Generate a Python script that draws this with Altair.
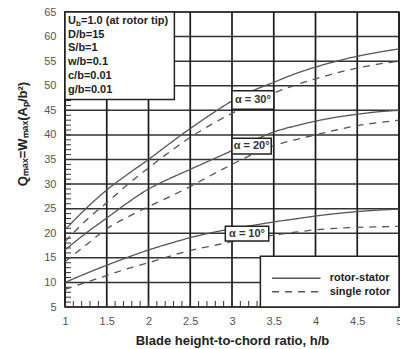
import altair as alt
import pandas as pd

# ---------------- data ----------------
h_b = [1.0, 1.25, 1.5, 1.75, 2.0, 2.25, 2.5, 2.75, 3.0, 3.25, 3.5, 3.75, 4.0, 4.25, 4.5, 4.75, 5.0]
rs30 = [20.7, 25.0, 28.8, 32.0, 35.0, 38.2, 41.3, 44.2, 46.9, 49.0, 50.7, 52.4, 53.8, 55.0, 56.0, 56.8, 57.5]
sr30 = [18.3, 22.6, 26.2, 29.9, 33.3, 36.5, 39.5, 42.1, 44.4, 46.6, 48.5, 50.1, 51.4, 52.6, 53.6, 54.4, 55.0]
rs20 = [16.6, 20.0, 23.1, 26.2, 29.0, 31.1, 33.0, 34.9, 36.8, 38.8, 40.6, 41.8, 42.8, 43.6, 44.2, 44.7, 45.0]
sr20 = [14.2, 17.6, 20.9, 23.3, 25.4, 27.4, 29.5, 31.8, 34.0, 36.1, 37.8, 39.0, 40.0, 41.0, 41.9, 42.5, 43.0]
rs10 = [10.0, 11.8, 13.5, 15.1, 16.6, 17.9, 19.1, 20.1, 20.9, 21.6, 22.3, 22.9, 23.5, 24.0, 24.4, 24.7, 24.9]
sr10 = [8.6, 10.0, 11.4, 12.8, 14.0, 15.3, 16.5, 17.4, 18.3, 19.0, 19.6, 20.2, 20.7, 21.0, 21.2, 21.3, 21.4]

series_types = ["rotor-stator", "single rotor"]
alpha_labels = ["α = 30°", "α = 20°", "α = 10°"]
# label boxes (data units): x0, x1, y0, y1
lab_x0 = [3.0, 3.0, 2.92]
lab_x1 = [3.5, 3.47, 3.44]
lab_y0 = [45.2, 36.1, 18.4]
lab_y1 = [49.0, 39.3, 21.4]

info_lines = ["U", "D/b=15", "S/b=1", "w/b=0.1", "c/b=0.01", "g/b=0.01"]
info_y = [63.2, 60.4, 57.7, 54.85, 52.0, 49.15]

x_ticks = [1, 1.5, 2, 2.5, 3, 3.5, 4, 4.5, 5]
y_ticks = list(range(5, 70, 5))
x_minor = [round(1 + 0.1 * i, 1) for i in range(41)]
y_minor = list(range(5, 66))

# ---------------- frames ----------------
rows = []
for name, typ, vals in [("30", "rotor-stator", rs30), ("30", "single rotor", sr30),
                        ("20", "rotor-stator", rs20), ("20", "single rotor", sr20),
                        ("10", "rotor-stator", rs10), ("10", "single rotor", sr10)]:
    for xv, yv in zip(h_b, vals):
        rows.append({"x": xv, "y": yv, "alpha": name, "type": typ})
df = pd.DataFrame(rows)

lab_df = pd.DataFrame({"x0": lab_x0, "x1": lab_x1, "y0": lab_y0, "y1": lab_y1, "label": alpha_labels})
lab_df["xc"] = (lab_df.x0 + lab_df.x1) / 2
lab_df["yc"] = (lab_df.y0 + lab_df.y1) / 2

W, H = 334, 295
FONT = "Liberation Sans"

xs = alt.Scale(domain=[1, 5], nice=False, zero=False)
ys = alt.Scale(domain=[5, 65], nice=False, zero=False)

AX = alt.Axis(values=x_ticks, format="~g", grid=False, domain=False, ticks=False,
              labelFont=FONT, labelFontSize=11, labelColor="#555", labelPadding=8,
              title="Blade height-to-chord ratio, h/b", titleFont=FONT,
              titleFontSize=13, titleFontWeight="bold", titleColor="#222",
              titlePadding=8, labelFlush=False, labelOverlap=False)
AY = alt.Axis(values=y_ticks, grid=False, domain=False, ticks=False,
              labelFont=FONT, labelFontSize=11, labelColor="#555", labelPadding=9,
              title=None, labelFlush=False, labelOverlap=False)


def X(f):
    return alt.X(f, type="quantitative", scale=xs, axis=AX)


def Y(f):
    return alt.Y(f, type="quantitative", scale=ys, axis=AY)


# gridlines
grid_x = alt.Chart(pd.DataFrame({"x": x_ticks})).mark_rule(color="#1a1a1a", strokeWidth=1.7).encode(
    x=X("x"))
grid_y = alt.Chart(pd.DataFrame({"y": y_ticks})).mark_rule(color="#333", strokeWidth=1.5).encode(
    y=Y("y"))

minor_y = alt.Chart(pd.DataFrame({"y": y_minor})).mark_rule(color="#333", strokeWidth=1).encode(
    y=Y("y"), x=alt.value(0), x2=alt.value(6))
minor_x = alt.Chart(pd.DataFrame({"x": x_minor})).mark_rule(color="#333", strokeWidth=1).encode(
    x=X("x"), y=alt.value(H), y2=alt.value(H - 6))

lines = alt.Chart(df).mark_line(color="#555", strokeWidth=1.3, interpolate="monotone").encode(
    x=X("x"), y=Y("y"),
    detail="alpha:N",
    strokeDash=alt.StrokeDash("type:N", scale=alt.Scale(domain=series_types, range=[[1, 0], [7, 6]]),
                              legend=None),
)

lab_box = alt.Chart(lab_df).mark_rect(fill="white", stroke="#222", strokeWidth=1.5).encode(
    x=X("x0"), x2="x1:Q", y=Y("y0"), y2="y1:Q")
lab_txt = alt.Chart(lab_df).mark_text(font=FONT, fontSize=11, color="#333", fontWeight="bold").encode(
    x=X("xc"), y=Y("yc"), text="label:N")

# info box (top-left)
info_box = alt.Chart(pd.DataFrame({"x0": [1.0], "x1": [2.31], "y0": [47.2], "y1": [65.0]})).mark_rect(
    fill="white", stroke="#222", strokeWidth=1.5).encode(
    x=X("x0"), x2="x1:Q", y=Y("y0"), y2="y1:Q")
info_df = pd.DataFrame({"t": info_lines, "y": info_y})
info_txt = alt.Chart(info_df).mark_text(font=FONT, fontSize=11, fontWeight="bold", color="#222",
                                         align="left", baseline="middle").encode(
    x=alt.value(3), y=Y("y"), text="t:N")
info_sub = alt.Chart(pd.DataFrame({"t": ["b"], "y": [62.55]})).mark_text(
    font=FONT, fontSize=8, fontWeight="bold", color="#222", align="left", baseline="middle").encode(
    x=alt.value(11), y=Y("y"), text="t:N")
info_rest = alt.Chart(pd.DataFrame({"t": ["=1.0 (at rotor tip)"], "y": [63.2]})).mark_text(
    font=FONT, fontSize=11, fontWeight="bold", color="#222", align="left", baseline="middle").encode(
    x=alt.value(16), y=Y("y"), text="t:N")

# legend box (bottom-right)
leg_box = alt.Chart(pd.DataFrame({"x0": [3.34], "x1": [5.0], "y0": [5.0], "y1": [15.3]})).mark_rect(
    fill="white", stroke="#222", strokeWidth=1.5).encode(
    x=X("x0"), x2="x1:Q", y=Y("y0"), y2="y1:Q")
leg_df = pd.DataFrame({"type": series_types, "x0": [3.48, 3.48], "x1": [4.06, 4.06],
                       "yy": [10.85, 8.1], "xt": [4.17, 4.17]})
leg_lines = alt.Chart(leg_df).mark_rule(color="#555", strokeWidth=1.3).encode(
    x=X("x0"), x2="x1:Q", y=Y("yy"),
    strokeDash=alt.StrokeDash("type:N", scale=alt.Scale(domain=series_types, range=[[1, 0], [7, 6]]),
                              legend=None))
leg_txt = alt.Chart(leg_df).mark_text(font=FONT, fontSize=11, fontWeight="bold", color="#222",
                                       align="left", baseline="middle").encode(
    x=X("xt"), y=Y("yy"), text="type:N")

ytitle = alt.Chart(pd.DataFrame({"t": ["Qₘₐₓ=Wₘₐₓ(Aₚ/b²)"]})).mark_text(
    font=FONT, fontSize=13, fontWeight="bold", color="#222", angle=270, align="center",
    baseline="middle").encode(x=alt.value(-42), y=alt.value(122), text="t:N")

chart = alt.layer(
    grid_y, grid_x, minor_y, minor_x, lines, lab_box, lab_txt,
    info_box, info_txt, info_sub, info_rest,
    leg_box, leg_lines, leg_txt, ytitle
).properties(
    width=W, height=H,
    autosize=alt.AutoSizeParams(type="none"),
    padding={"left": 65, "top": 12, "right": 1, "bottom": 42},
    background="white",
).configure_view(stroke="#222", strokeWidth=1.5)

chart.save("out.html", embed_options={"renderer": "svg", "actions": False})
